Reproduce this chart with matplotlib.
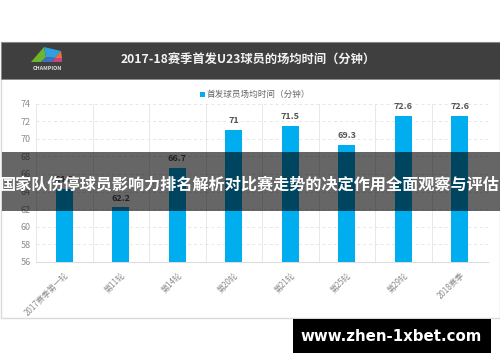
import matplotlib.pyplot as plt
from matplotlib.patches import Rectangle, Polygon

plt.rcParams['font.family'] = ['Noto Sans CJK SC', 'DejaVu Sans']

W = 500
H = 362

rounds = ['2017赛季第一轮', '第11轮', '第14轮', '第20轮', '第21轮', '第25轮', '第29轮', '2018赛季']
minutes = [64.3, 62.2, 66.7, 71, 71.5, 69.3, 72.6, 72.6]
labels = ['64.3', '62.2', '66.7', '71', '71.5', '69.3', '72.6', '72.6']
yticks = [56, 58, 60, 62, 64, 66, 68, 70, 72, 74]

title = '2017-18赛季首发U23球员的场均时间（分钟）'
legend_label = '首发球员场均时间（分钟）'
banner = '国家队伤停球员影响力排名解析对比赛走势的决定作用全面观察与评估'
site = 'www.zhen-1xbet.com'


# pixel box -> figure rectangle
def px_rect(x0, y0, x1, y1, **kw):
    r = Rectangle((x0 / W, 1 - y1 / H), (x1 - x0) / W, (y1 - y0) / H,
                  transform=fig.transFigure, **kw)
    fig.add_artist(r)
    return r


def px_text(x, y, s, **kw):
    return fig.text(x / W, 1 - y / H, s, **kw)


def px_poly(points, **kw):
    pts = [(x / W, 1 - y / H) for x, y in points]
    fig.add_artist(Polygon(pts, closed=True, transform=fig.transFigure, **kw))


fig = plt.figure(figsize=(5, 3.62), dpi=100, facecolor='white')

# card and header
px_rect(0.5, 42, 499.5, 318, facecolor='white', edgecolor='#d9d9d9', linewidth=1, zorder=-2)
px_rect(0.5, 42, 499.5, 79, facecolor='#3f3f3f', edgecolor='#8a8a8a', linewidth=0.6, zorder=0)

# logo
px_poly([(31, 62), (44, 47), (46, 57), (41, 62)], facecolor='#6fb52c', zorder=1)
px_poly([(44, 47), (61, 51), (55, 58), (46, 57)], facecolor='#2f9fe0', zorder=1)
px_poly([(46, 57), (55, 58), (52, 62), (41, 62)], facecolor='#3e6fc4', zorder=1)
px_poly([(55, 58), (61, 51), (62, 58)], facecolor='#e8743b', zorder=1)
px_poly([(52, 62), (55, 58), (62, 58), (62, 62)], facecolor='#c9447a', zorder=1)
px_text(47.5, 68, 'CHAMPION', color='#e0e0e0', fontsize=3.9, fontweight='bold',
        ha='center', va='center', zorder=2)

px_text(248, 60, title, color='#f2f2f2', fontsize=8.8, fontweight='bold',
        ha='center', va='center', zorder=2)

# legend
px_rect(200, 92, 205, 97, facecolor='#00aeef', edgecolor='none')
px_text(207, 94, legend_label, color='#666666', fontsize=6.2, ha='left', va='center')

# bars
ax = fig.add_axes([36 / W, 1 - 262 / H, 452 / W, 158.5 / H])
ax.set_facecolor('none')
x = list(range(len(rounds)))
ax.bar(x, minutes, width=0.3, color='#00aeef', zorder=3)
ax.set_xlim(-0.5, len(rounds) - 0.5)
ax.set_ylim(56, 74)
ax.set_yticks(yticks)
ax.set_yticklabels([str(v) for v in yticks], color='#8c8c8c', fontsize=6.5)
ax.set_xticks(x)
ax.set_xticklabels(rounds, rotation=45, ha='right', rotation_mode='anchor',
                   color='#8c8c8c', fontsize=5.8)
ax.tick_params(length=0, pad=4)
ax.tick_params(axis='x', pad=6)

ax.grid(axis='y', color='#e6e6e6', linestyle=(0, (3, 3)), linewidth=0.7, zorder=0)
for edge in [i - 0.5 for i in range(len(rounds) + 1)]:
    ax.axvline(edge, color='#e8e8e8', linewidth=0.7, zorder=1)
for side in ['top', 'right', 'left']:
    ax.spines[side].set_visible(False)
ax.spines['bottom'].set_color('#dcdcdc')

for i, v in enumerate(minutes):
    ax.text(i, v + 0.55, labels[i], color='#555555', fontsize=6.5, fontweight='bold',
            ha='center', va='bottom', zorder=4)

# banner over the chart
px_rect(2, 152, 500, 211, facecolor='black', alpha=0.6, edgecolor='none', zorder=5)
px_text(250, 185, banner, color='white', fontsize=11.6, fontweight='bold',
        ha='center', va='center', zorder=6)

# watermark box
px_rect(293, 319, 491, 353, facecolor='black', edgecolor='none', zorder=5)
px_text(391.5, 336.5, site, color='white', fontsize=10.8, fontweight='bold',
        family=['DejaVu Sans'], ha='center', va='center', zorder=6)

fig.savefig('out.png', dpi=100)
